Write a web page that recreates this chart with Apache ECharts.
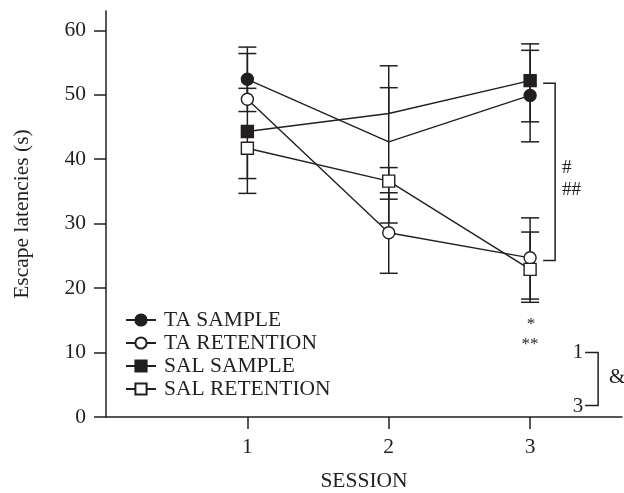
<!DOCTYPE html>
<html>
<head>
<meta charset="utf-8">
<script src="https://cdn.jsdelivr.net/npm/echarts@6/dist/echarts.min.js"></script>
<style>
  html, body { margin: 0; background: #fff; }
  #chart { width: 624px; height: 493px; }
</style>
</head>
<body>
<div id="chart"></div>
<script>
const sessions = [1, 2, 3];
const seriesNames = ['TA SAMPLE', 'TA RETENTION', 'SAL SAMPLE', 'SAL RETENTION'];

// means per session
const taSample = [52.4, 42.7, 49.9];
const taRetention = [49.3, 28.6, 24.7];
const salSample = [44.3, 47.1, 52.2];
const salRetention = [41.7, 36.6, 22.9];

// error bar ends (null = no cap drawn)
const taSampleLow = [47.4, 30.1, 42.7];
const taSampleHigh = [57.4, 54.5, 56.9];
const taRetentionLow = [null, 22.3, 18.3];
const taRetentionHigh = [56.4, 34.8, 30.9];
const salSampleLow = [37.0, null, 45.8];
const salSampleHigh = [51.0, 51.1, 57.9];
const salRetentionLow = [34.7, 33.8, 17.8];
const salRetentionHigh = [null, 38.7, 28.7];

// points where the marker is missing in the figure
const hiddenMarkers = [[1], [], [1], []];

const yTicks = [0, 10, 20, 30, 40, 50, 60];

const INK = '#231f20';
const FONT = '"Liberation Serif", "Times New Roman", serif';
const FS = 21.5;

const means = [taSample, taRetention, salSample, salRetention];
const lows = [taSampleLow, taRetentionLow, salSampleLow, salRetentionLow];
const highs = [taSampleHigh, taRetentionHigh, salSampleHigh, salRetentionHigh];
const symbols = ['circle', 'circle', 'rect', 'rect'];
const fills = [INK, '#fff', INK, '#fff'];

const chart = echarts.init(document.getElementById('chart'));

const lineSeries = seriesNames.map((name, i) => ({
  name,
  type: 'line',
  z: 3,
  symbol: symbols[i],
  symbolSize: 12,
  showAllSymbol: true,
  lineStyle: { color: INK, width: 1.4 },
  itemStyle: { color: fills[i], borderColor: INK, borderWidth: 1.4 },
  emphasis: { disabled: true },
  data: sessions.map((s, j) => {
    const item = { value: [s, means[i][j]] };
    if (hiddenMarkers[i].includes(j)) item.symbol = 'none';
    return item;
  }),
}));

const errData = [];
seriesNames.forEach((name, i) => {
  sessions.forEach((s, j) => {
    errData.push([s, means[i][j], lows[i][j], highs[i][j]]);
  });
});

const errorSeries = {
  type: 'custom',
  z: 1,
  silent: true,
  data: errData,
  renderItem: (params, api) => {
    const x = api.value(0);
    const m = api.value(1);
    const lo = errData[params.dataIndex][2];
    const hi = errData[params.dataIndex][3];
    const top = api.coord([x, hi == null ? m : hi]);
    const bot = api.coord([x, lo == null ? m : lo]);
    const half = 9;
    const style = { stroke: INK, lineWidth: 1.5 };
    const children = [
      { type: 'line', shape: { x1: top[0], y1: top[1], x2: bot[0], y2: bot[1] }, style },
    ];
    if (hi != null) children.push({ type: 'line', shape: { x1: top[0] - half, y1: top[1], x2: top[0] + half, y2: top[1] }, style });
    if (lo != null) children.push({ type: 'line', shape: { x1: bot[0] - half, y1: bot[1], x2: bot[0] + half, y2: bot[1] }, style });
    return { type: 'group', children };
  },
};

chart.setOption({
  animation: false,
  textStyle: { fontFamily: FONT, color: INK },
  grid: { left: 106, right: 2, top: 11, bottom: 76, outerBoundsMode: 'none', containLabel: false },
  legend: {
    orient: 'vertical',
    left: 120,
    top: 304,
    itemWidth: 30,
    itemHeight: 14,
    itemGap: 1,
    data: seriesNames,
    textStyle: { fontFamily: FONT, fontSize: FS, color: INK, padding: [0, 0, 0, 3], lineHeight: 20 },
  },
  xAxis: {
    type: 'value',
    min: 0,
    max: 3.65,
    interval: 1,
    name: 'SESSION',
    nameLocation: 'middle',
    nameGap: 53,
    nameTextStyle: { fontFamily: FONT, fontSize: FS, color: INK },
    axisLine: { lineStyle: { color: INK, width: 1.5 } },
    axisTick: { show: true, length: 12, inside: false, customValues: sessions, lineStyle: { color: INK, width: 1.5 } },
    axisLabel: { margin: 19, fontFamily: FONT, fontSize: FS, color: INK, customValues: sessions },
    splitLine: { show: false },
  },
  yAxis: {
    type: 'value',
    min: 0,
    max: 63,
    interval: 10,
    name: 'Escape latencies (s)',
    nameLocation: 'middle',
    nameGap: 73,
    nameTextStyle: { fontFamily: FONT, fontSize: FS, color: INK },
    axisLine: { show: true, lineStyle: { color: INK, width: 1.5 } },
    axisTick: { show: true, length: 12, customValues: yTicks, lineStyle: { color: INK, width: 1.5 } },
    axisLabel: { margin: 20, fontFamily: FONT, fontSize: FS, color: INK, customValues: yTicks },
    splitLine: { show: false },
  },
  series: [errorSeries, ...lineSeries],
});

// significance annotations, placed in data space
const px = (x, y) => chart.convertToPixel({ gridIndex: 0 }, [x, y]);
const bracketA = [px(3.092, 51.8), px(3.177, 51.8), px(3.177, 24.3), px(3.092, 24.3)];
const bracketB = [px(3.389, 10.0), px(3.481, 10.0), px(3.481, 1.8), px(3.389, 1.8)];

const txt = (s, p, size, align) => ({
  type: 'text',
  silent: true,
  style: {
    text: s, x: p[0], y: p[1], fill: INK,
    font: size + 'px ' + FONT,
    align: align || 'center', verticalAlign: 'middle',
    textAlign: align || 'center', textVerticalAlign: 'middle',
  },
});

chart.setOption({
  graphic: [
    { type: 'polyline', silent: true, shape: { points: bracketA }, style: { stroke: INK, lineWidth: 1.5, fill: null } },
    { type: 'polyline', silent: true, shape: { points: bracketB }, style: { stroke: INK, lineWidth: 1.5, fill: null } },
    txt('#', px(3.226, 38.6), 19, 'left'),
    txt('##', px(3.226, 35.2), 19, 'left'),
    txt('*', px(3.007, 14.4), 17),
    txt('**', px(3.0, 11.3), 17),
    txt('1', px(3.339, 10.0), 21),
    txt('3', px(3.339, 1.7), 21),
    txt('&', px(3.615, 6.2), 21),
  ],
});
</script>
</body>
</html>
